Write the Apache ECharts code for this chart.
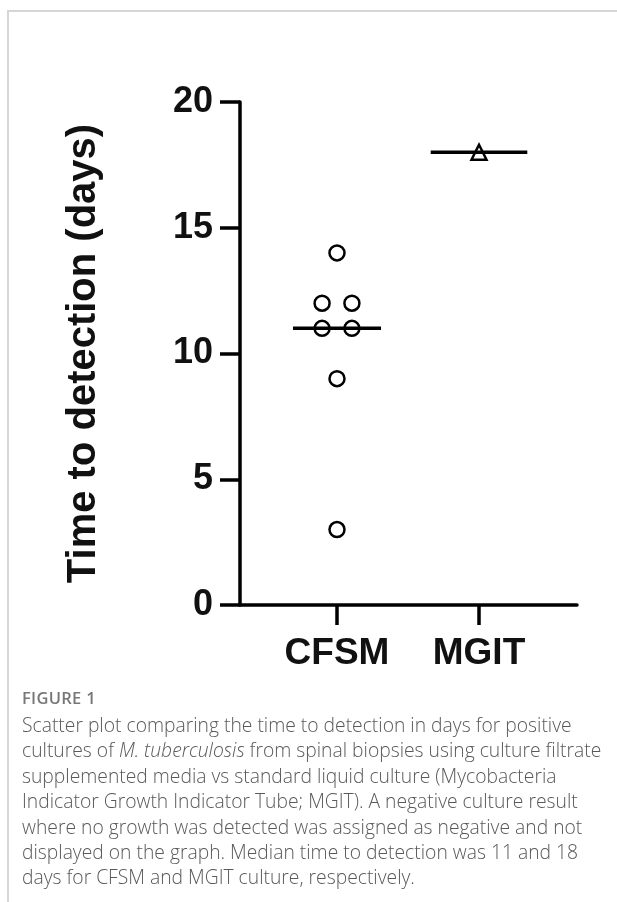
<!DOCTYPE html>
<html>
<head>
<meta charset="utf-8">
<script src="https://cdn.jsdelivr.net/npm/echarts@6/dist/echarts.min.js"></script>
<style>
html,body{margin:0;padding:0;background:#fff;}
#wrap{position:relative;width:617px;height:902px;overflow:hidden;}
#chart{position:absolute;left:0;top:0;width:617px;height:902px;}
#frameTop{position:absolute;left:8px;top:10px;width:609px;height:0;border-top:2px solid #d6d6d6;}
#frameLeft{position:absolute;left:7px;top:10px;width:0;height:892px;border-left:2px solid #d6d6d6;}
#fig{position:absolute;left:22px;top:686px;font-family:"Open Sans",sans-serif;font-weight:600;font-size:16.5px;color:#777;letter-spacing:0.3px;}
#cap{position:absolute;left:22px;top:712px;font-family:"Open Sans",sans-serif;font-weight:300;font-size:19.3px;line-height:25.4px;color:#595959;white-space:nowrap;}
</style>
</head>
<body>
<div id="wrap">
<div id="frameTop"></div>
<div id="frameLeft"></div>
<div id="chart"></div>
<div id="fig">FIGURE 1</div>
<div id="cap">Scatter plot comparing the time to detection in days for positive<br>cultures of <i>M. tuberculosis</i> from spinal biopsies using culture filtrate<br>supplemented media vs standard liquid culture (Mycobacteria<br>Indicator Growth Indicator Tube; MGIT). A negative culture result<br>where no growth was detected was assigned as negative and not<br>displayed on the graph. Median time to detection was 11 and 18<br>days for CFSM and MGIT culture, respectively.</div>
</div>
<script>
// Data
const categories = ['CFSM', 'MGIT'];
const categoryPositions = [1, 2];
const cfsmValues = [14, 12, 12, 11, 11, 9, 3];
const cfsmOffsets = [0, -0.105, 0.105, -0.105, 0.105, 0, 0];
const mgitValues = [18];
const mgitOffsets = [0];
const medians = [11, 18];
const medianHalfWidths = [0.31, 0.34];
const yTicks = [0, 5, 10, 15, 20];

const chart = echarts.init(document.getElementById('chart'), null, {renderer: 'canvas'});
const font = '"Liberation Sans", Arial, Helvetica, sans-serif';

const cfsmData = cfsmValues.map((v, i) => [categoryPositions[0] + cfsmOffsets[i], v]);
const mgitData = mgitValues.map((v, i) => [categoryPositions[1] + mgitOffsets[i], v]);
const medianSeries = medians.map((m, i) => ({
  type: 'line',
  data: [[categoryPositions[i] - medianHalfWidths[i], m], [categoryPositions[i] + medianHalfWidths[i], m]],
  symbol: 'none',
  lineStyle: {color: '#000', width: 3.5},
  z: 5,
  silent: true
}));

chart.setOption({
  animation: false,
  grid: {left: 240, right: 40, top: 102, bottom: 297},
  xAxis: {
    type: 'value',
    min: 0.317,
    max: 2.69,
    splitLine: {show: false},
    axisLine: {show: true, onZero: false, lineStyle: {color: '#000', width: 3.5}},
    axisTick: {show: true, customValues: categoryPositions, length: 20, lineStyle: {color: '#000', width: 3.5}},
    axisLabel: {
      customValues: categoryPositions,
      formatter: v => categories[categoryPositions.indexOf(Math.round(v))] || '',
      fontFamily: font, fontWeight: 'bold', fontSize: 37, color: '#111', margin: 30
    }
  },
  yAxis: {
    type: 'value',
    min: yTicks[0],
    max: yTicks[yTicks.length - 1],
    interval: 5,
    name: 'Time to detection (days)',
    nameLocation: 'middle',
    nameGap: 136,
    nameTextStyle: {fontFamily: font, fontWeight: 'bold', fontSize: 40, color: '#111'},
    splitLine: {show: false},
    axisLine: {show: true, lineStyle: {color: '#000', width: 3.5}},
    axisTick: {show: true, length: 20, lineStyle: {color: '#000', width: 3.5}},
    axisLabel: {fontFamily: font, fontWeight: 'bold', fontSize: 36, color: '#111', margin: 27}
  },
  series: [
    {
      type: 'scatter', data: cfsmData, symbol: 'circle', symbolSize: 15,
      itemStyle: {color: '#fff', borderColor: '#000', borderWidth: 2.5, opacity: 1}, z: 3
    },
    {
      type: 'scatter', data: mgitData, symbol: 'triangle', symbolSize: 15,
      itemStyle: {color: '#fff', borderColor: '#000', borderWidth: 2.5, opacity: 1}, z: 3
    }
  ].concat(medianSeries)
});
</script>
</body>
</html>
